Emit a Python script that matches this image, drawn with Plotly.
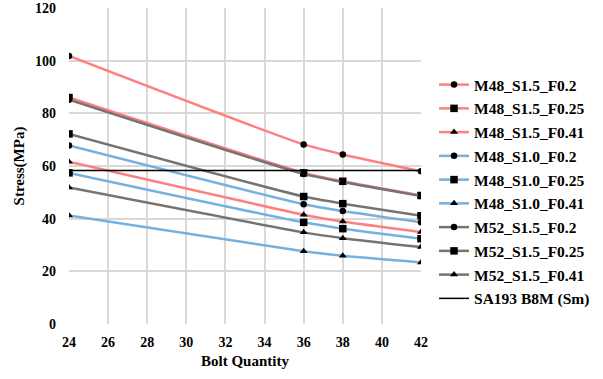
import plotly.graph_objects as go

bolts = [24, 36, 38, 42]

m48_s15_f020 = [101.8, 68.2, 64.4, 58.0]
m48_s15_f025 = [86.0, 57.4, 54.2, 48.8]
m48_s15_f041 = [61.6, 41.5, 38.9, 34.9]
m48_s10_f020 = [67.8, 45.5, 42.9, 38.6]
m48_s10_f025 = [57.4, 38.6, 36.2, 32.4]
m48_s10_f041 = [41.2, 27.6, 25.9, 23.4]
m52_s15_f020 = [85.2, 57.0, 53.9, 48.6]
m52_s15_f025 = [72.2, 48.4, 45.7, 41.1]
m52_s15_f041 = [51.8, 34.8, 32.6, 29.2]

sm_x = [24, 42]
sm_y = [58.3, 58.3]

x_ticks = [24, 26, 28, 30, 32, 34, 36, 38, 40, 42]
y_ticks = [0, 20, 40, 60, 80, 100, 120]

names = ["M48_S1.5_F0.2", "M48_S1.5_F0.25", "M48_S1.5_F0.41",
         "M48_S1.0_F0.2", "M48_S1.0_F0.25", "M48_S1.0_F0.41",
         "M52_S1.5_F0.2", "M52_S1.5_F0.25", "M52_S1.5_F0.41"]
series = [m48_s15_f020, m48_s15_f025, m48_s15_f041,
          m48_s10_f020, m48_s10_f025, m48_s10_f041,
          m52_s15_f020, m52_s15_f025, m52_s15_f041]

RED = "#FF7F80"
BLUE = "#74B0E0"
GRAY = "#747474"
colors = [RED] * 3 + [BLUE] * 3 + [GRAY] * 3
symbols = ["circle", "square", "triangle-up"] * 3
msizes = [6.5, 7.5, 7] * 3

FONT = "Liberation Serif"

fig = go.Figure()
for i in range(9):
    fig.add_trace(go.Scatter(
        x=bolts, y=series[i], name=names[i], mode="lines+markers",
        line=dict(color=colors[i], width=2.5, shape="spline", smoothing=0.6),
        marker=dict(symbol=symbols[i], size=msizes[i], color="black"),
        legendgroup=names[i], legendrank=i + 1,
    ))
fig.add_trace(go.Scatter(
    x=sm_x, y=sm_y, name="SA193 B8M (Sm)", mode="lines",
    line=dict(color="black", width=1.5), legendgroup="sm", legendrank=10,
))

fig.update_layout(
    width=603, height=379,
    margin=dict(l=69, r=178, t=8, b=55),
    paper_bgcolor="white", plot_bgcolor="white",
    font=dict(family=FONT, size=14, color="black"),
    showlegend=True,
    legend=dict(x=1.037, y=0.81, xanchor="left", yanchor="top",
                font=dict(family=FONT, size=15.5, color="black", weight="bold"),
                tracegroupgap=0.6, itemwidth=30, bgcolor="rgba(0,0,0,0)"),
)
fig.update_xaxes(
    range=[24, 42], tickmode="array", tickvals=x_ticks,
    showgrid=True, gridcolor="#D9D9D9", gridwidth=1.5, zeroline=False,
    showline=False, ticks="", ticklabelstandoff=8, automargin=False,
    tickfont=dict(family=FONT, size=14, weight="bold"),
    title=dict(text="<b>Bolt Quantity</b>", font=dict(family=FONT, size=15), standoff=6),
)
fig.update_yaxes(
    range=[0, 120], tickmode="array", tickvals=y_ticks,
    showgrid=True, gridcolor="#D9D9D9", gridwidth=1.5, zeroline=False,
    showline=False, ticks="", ticklabelstandoff=12, automargin=False,
    tickfont=dict(family=FONT, size=14, weight="bold"),
    title=dict(text="<b>Stress(MPa)</b>", font=dict(family=FONT, size=15), standoff=6),
)

fig.write_html("out.html", config={"displayModeBar": False},
               post_script="document.body.style.margin='0';document.body.style.overflow='hidden';")
